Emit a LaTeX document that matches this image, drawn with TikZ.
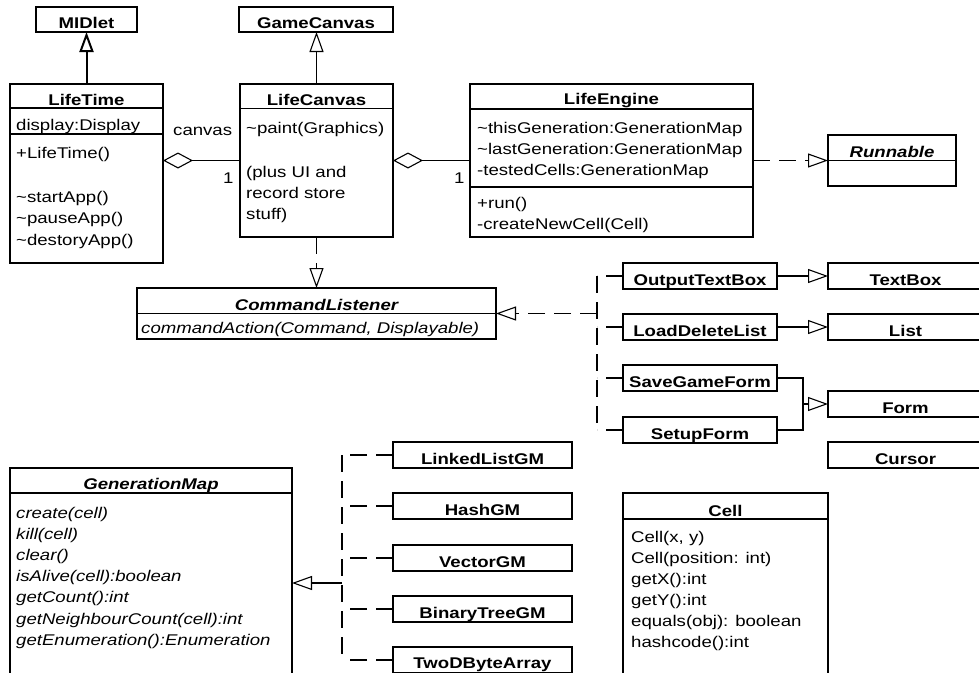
\documentclass[tikz,border=0pt]{standalone}
\usepackage{fontspec}
\setmainfont{Liberation Sans}[FakeStretch=1.2]
\usetikzlibrary{arrows.meta}

\newcommand{\umlsize}{\fontsize{15.5}{21}\selectfont}

\tikzset{
  umlbox/.style={draw, line width=1.1pt, inner sep=0pt, outer sep=0pt, anchor=north west},
  boxname/.style={inner sep=0pt, anchor=base, font=\umlsize\bfseries},
  absname/.style={boxname, font=\umlsize\bfseries\itshape},
  member/.style={inner sep=0pt, anchor=base west, font=\umlsize},
  absmember/.style={member, font=\umlsize\itshape},
  inherits/.style={-{Triangle[open,length=20pt,width=14pt]}, line width=1.1pt},
  realizes/.style={inherits, dash pattern=on 17pt off 9pt},
  dashes/.style={line width=1.1pt, dash pattern=on 17pt off 9pt},
  aggregates/.style={{Diamond[open,length=30pt,width=16pt]}-, line width=1.1pt},
}

\begin{document}
\begin{tikzpicture}[x=1pt, y=-1pt]
  \clip (0,0) rectangle (979,672);

  % top row
  \node[umlbox, minimum width=101pt, minimum height=25pt] (midlet) at (36,7) {};
  \node[boxname] (midletname) at (86.5,28) {MIDlet};
  \node[umlbox, minimum width=154pt, minimum height=25pt] (gamecanvas) at (239,7) {};
  \node[boxname] (gamecanvasname) at (316,28) {GameCanvas};

  % LifeTime
  \node[umlbox, minimum width=153pt, minimum height=179pt] (lifetime) at (10,84) {};
  \node[boxname] (lifetimename) at (86.5,105) {LifeTime};
  \draw[line width=1.1pt] (lifetime.west |- 0,108) -- (lifetime.east |- 0,108);
  \draw[line width=1.1pt] (lifetime.west |- 0,134) -- (lifetime.east |- 0,134);
  \node[member] (ltdisplay) at (16,130) {display:Display};
  \node[member] (ltnew) at (16,158) {+LifeTime()};
  \node[member] (ltstart) at (16,202) {\textasciitilde startApp()};
  \node[member] (ltpause) at (16,223.5) {\textasciitilde pauseApp()};
  \node[member] (ltdestroy) at (16,245) {\textasciitilde destoryApp()};

  % LifeCanvas
  \node[umlbox, minimum width=153pt, minimum height=153pt] (lifecanvas) at (240,84) {};
  \node[boxname] (lifecanvasname) at (316.5,105) {LifeCanvas};
  \draw[line width=1.1pt] (lifecanvas.west |- 0,108.5) -- (lifecanvas.east |- 0,108.5);
  \node[member] (lcpaint) at (246,133) {\textasciitilde paint(Graphics)};
  \node[member] (lcplus) at (246,177) {(plus UI and};
  \node[member] (lcrecord) at (246,198) {record store};
  \node[member] (lcstuff) at (246,219) {stuff)};

  % LifeEngine
  \node[umlbox, minimum width=283pt, minimum height=153pt] (lifeengine) at (470,84) {};
  \node[boxname] (lifeenginename) at (611.5,104) {LifeEngine};
  \draw[line width=1.1pt] (lifeengine.west |- 0,109) -- (lifeengine.east |- 0,109);
  \draw[line width=1.1pt] (lifeengine.west |- 0,187) -- (lifeengine.east |- 0,187);
  \foreach \m [count=\i] in {\textasciitilde thisGeneration:GenerationMap,
      \textasciitilde lastGeneration:GenerationMap, -testedCells:GenerationMap}
    \node[member] (leattr\i) at (477,{133+21*(\i-1)}) {\m};
  \node[member] (lerun) at (477,208) {+run()};
  \node[member] (lecreate) at (477,229) {-createNewCell(Cell)};

  % Runnable
  \node[umlbox, minimum width=128pt, minimum height=51pt] (runnable) at (828,135) {};
  \node[absname] (runnablename) at (892,157) {Runnable};
  \draw[line width=1.1pt] (runnable.west) -- (runnable.east);

  % CommandListener
  \node[umlbox, minimum width=359pt, minimum height=51pt] (cmdlistener) at (137,288) {};
  \node[absname] (cmdlistenername) at (316.5,310.5) {CommandListener};
  \draw[line width=1.1pt] (cmdlistener.west) -- (cmdlistener.east);
  \node[absmember] (cmdaction) at (141,333) {commandAction(Command, Displayable)};

  % UI classes
  \node[umlbox, minimum width=154pt, minimum height=26pt] (outbox) at (623,263) {};
  \node[boxname] (outboxname) at (700,285) {OutputTextBox};
  \node[umlbox, minimum width=154pt, minimum height=26pt] (loadlist) at (623,314) {};
  \node[boxname] (loadlistname) at (700,336) {LoadDeleteList};
  \node[umlbox, minimum width=154pt, minimum height=26pt] (saveform) at (623,365) {};
  \node[boxname] (saveformname) at (700,387) {SaveGameForm};
  \node[umlbox, minimum width=154pt, minimum height=26pt] (setupform) at (623,417) {};
  \node[boxname] (setupformname) at (700,439) {SetupForm};

  \node[umlbox, minimum width=155pt, minimum height=26pt] (textbox) at (828,263) {};
  \node[boxname] (textboxname) at (905.5,285) {TextBox};
  \node[umlbox, minimum width=155pt, minimum height=26pt] (list) at (828,314) {};
  \node[boxname] (listname) at (905.5,336) {List};
  \node[umlbox, minimum width=155pt, minimum height=26pt] (form) at (828,391) {};
  \node[boxname] (formname) at (905.5,413) {Form};
  \node[umlbox, minimum width=155pt, minimum height=26pt] (cursor) at (828,442) {};
  \node[boxname] (cursorname) at (905.5,464) {Cursor};

  % GenerationMap
  \node[umlbox, minimum width=282pt, minimum height=220pt] (genmap) at (10,468) {};
  \node[absname] (genmapname) at (151,489) {GenerationMap};
  \draw[line width=1.1pt] (genmap.west |- 0,493) -- (genmap.east |- 0,493);
  \foreach \m [count=\i] in {create(cell), kill(cell), clear(), isAlive(cell):boolean,
      getCount():int, getNeighbourCount(cell):int, getEnumeration():Enumeration}
    \node[absmember] (gmop\i) at (16,{518+21.2*(\i-1)}) {\m};

  \node[umlbox, minimum width=179pt, minimum height=26pt] (linkedgm) at (393,442) {};
  \node[boxname] (linkedgmname) at (482.5,464) {LinkedListGM};
  \node[umlbox, minimum width=179pt, minimum height=26pt] (hashgm) at (393,493) {};
  \node[boxname] (hashgmname) at (482.5,515) {HashGM};
  \node[umlbox, minimum width=179pt, minimum height=26pt] (vectorgm) at (393,545) {};
  \node[boxname] (vectorgmname) at (482.5,567) {VectorGM};
  \node[umlbox, minimum width=179pt, minimum height=26pt] (treegm) at (393,596) {};
  \node[boxname] (treegmname) at (482.5,618) {BinaryTreeGM};
  \node[umlbox, minimum width=179pt, minimum height=26pt] (bytearray) at (393,647) {};
  \node[boxname] (bytearrayname) at (482.5,668) {TwoDByteArray};

  % Cell
  \node[umlbox, minimum width=205pt, minimum height=200pt] (cell) at (623,493) {};
  \node[boxname] (cellname) at (725.5,516) {Cell};
  \draw[line width=1.1pt] (cell.west |- 0,519) -- (cell.east |- 0,519);
  \foreach \m [count=\i] in {{Cell(x, y)}, Cell(position: int), getX():int, getY():int,
      equals(obj): boolean, hashcode():int}
    \node[member] (cellop\i) at (631,{542+21*(\i-1)}) {\m};

  % connectors
  \draw[inherits, line width=2pt] (lifetime.north) -- (midlet.south);
  \draw[inherits] (lifecanvas.north) -- (lifecanvas.north |- gamecanvas.south);
  \draw[aggregates] (lifetime.east |- lifecanvas.west) -- (lifecanvas.west);
  \draw[aggregates] (lifecanvas.east) -- (lifeengine.west);
  \node[member] (canvaslabel) at (173,135) {canvas};
  \node[member] (canvasmult) at (223,183) {1};
  \node[member] (enginemult) at (454,183) {1};
  \draw[realizes] (lifeengine.east) -- (runnable.west);
  \draw[realizes] (lifecanvas.south) -- (lifecanvas.south |- cmdlistener.north);

  \coordinate (cmdbus) at (597,313.5);
  \draw[dashes] (cmdbus |- outbox.west) -- (cmdbus |- setupform.west);
  \foreach \b in {outbox, loadlist, saveform, setupform}
    \draw[dashes] (\b.west) -- (\b.west -| cmdbus);
  \draw[realizes] (cmdbus) -- (cmdlistener.east);

  \draw[inherits] (outbox.east) -- (textbox.west);
  \draw[inherits] (loadlist.east) -- (list.west);
  \coordinate (formbus) at (803,404);
  \draw[line width=1.1pt] (saveform.east) -| (formbus);
  \draw[line width=1.1pt] (setupform.east) -| (formbus);
  \draw[inherits] (formbus) -- (form.west);

  \coordinate (gmbus) at (342,583);
  \draw[dashes] (gmbus |- linkedgm.west) -- (gmbus |- bytearray.west);
  \foreach \b in {linkedgm, hashgm, vectorgm, treegm, bytearray}
    \draw[dashes] (\b.west) -- (\b.west -| gmbus);
  \draw[inherits] (gmbus) -- (genmap.east |- gmbus);
\end{tikzpicture}
\end{document}
